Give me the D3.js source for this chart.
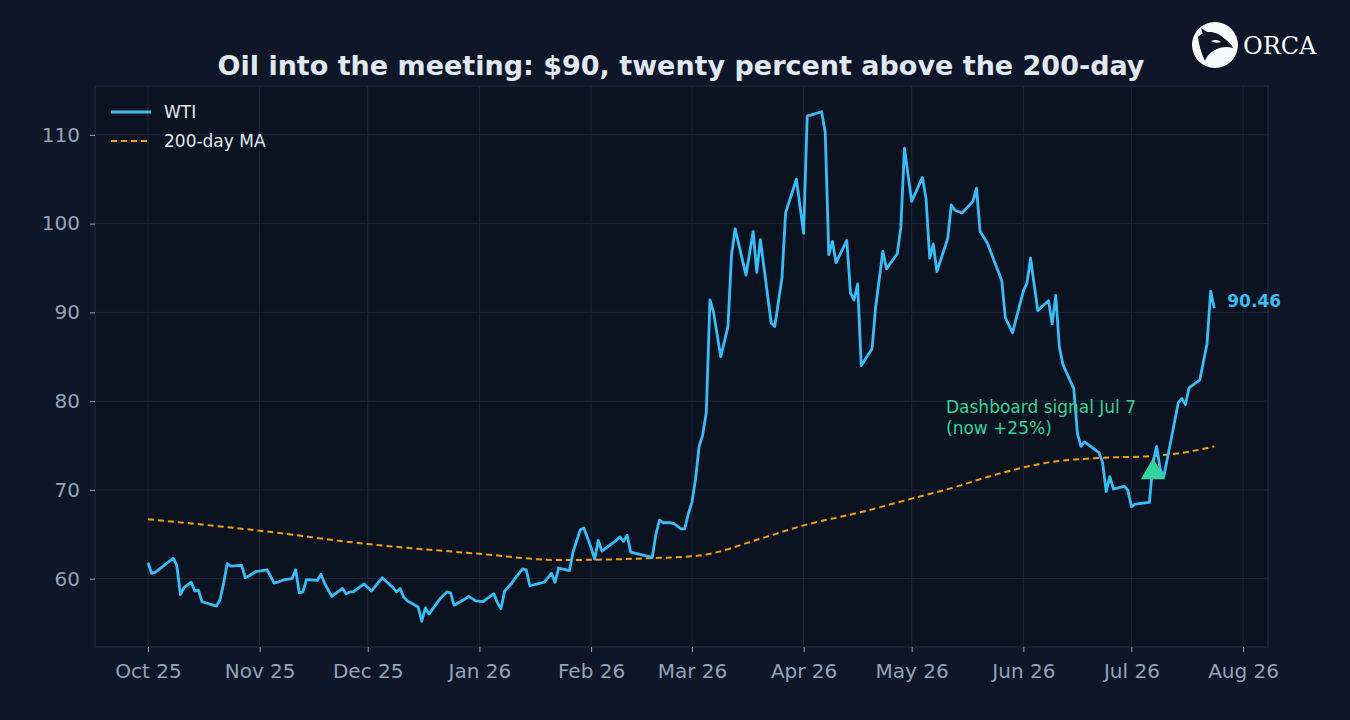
<!DOCTYPE html>
<html>
<head>
<meta charset="utf-8">
<script src="https://cdn.jsdelivr.net/npm/d3@7"></script>
<style>
  body { margin: 0; background: #0e1628; }
  svg { display: block; font-family: "DejaVu Sans", sans-serif; }
</style>
</head>
<body>
<svg id="chart" width="1350" height="720"></svg>
<script>
// data: days after Oct 1 2025, price
const startDate = new Date(2025, 9, 1);
const wtiDays = [0,1,2,7,8,9,10,12,13,14,15,19,20,21,22,23,26,27,28,30,33,34,35,36,38,40,41,42,43,44,47,48,49,51,54,55,56,57,60,62,65,68,69,70,71,72,75,76,77,78,81,83,84,85,88,89,91,93,96,97,98,99,101,102,104,105,106,110,112,113,114,117,118,120,121,123,124,125,126,130,131,132,133,134,140,141,142,143,145,146,148,149,150,151,152,153,154,155,156,157,159,161,162,163,166,168,169,170,173,174,176,177,180,182,183,187,188,189,190,191,194,195,196,197,198,201,202,204,205,208,209,210,212,215,216,217,218,219,222,223,224,226,229,230,231,233,237,238,240,243,244,245,247,250,251,252,253,254,257,258,259,260,264,265,266,267,268,271,272,273,274,278,279,280,281,282,285,286,287,288,289,292,294,295,296];
const wtiValues = [61.8,60.6,60.7,62.3,61.5,58.2,59.0,59.6,58.6,58.7,57.4,56.9,57.6,59.5,61.7,61.4,61.5,60.1,60.3,60.8,61.0,60.3,59.5,59.6,59.9,60.0,61.0,58.4,58.5,59.9,59.8,60.5,59.5,58.0,58.9,58.3,58.5,58.5,59.4,58.6,60.1,59.0,58.5,58.9,57.9,57.5,56.8,55.2,56.7,56.0,57.7,58.5,58.4,57.0,57.7,58.0,57.5,57.4,58.3,57.3,56.6,58.6,59.5,60.1,61.1,61.0,59.2,59.6,60.6,59.6,61.2,60.9,63.0,65.5,65.7,63.5,62.2,64.3,63.1,64.3,64.7,64.2,64.9,63.0,62.4,65.0,66.6,66.3,66.3,66.2,65.6,65.6,67.3,68.6,71.2,74.9,76.2,78.8,91.4,90.0,85.0,88.4,96.5,99.4,94.2,99.1,94.5,98.2,88.8,88.4,93.9,101.2,105.0,98.9,112.1,112.6,110.3,96.5,98.0,95.6,98.1,92.2,91.4,93.2,84.0,85.9,90.6,96.9,94.9,96.6,99.6,108.5,102.5,105.2,102.8,96.1,97.7,94.6,98.3,102.1,101.5,101.2,102.5,104.0,99.1,97.8,93.6,89.4,87.7,92.4,93.3,96.1,90.2,91.3,88.7,91.9,86.1,84.1,81.4,76.4,74.9,75.4,74.2,73.1,69.8,71.5,70.1,70.4,70.0,68.1,68.4,68.6,73.1,74.9,72.3,71.5,77.7,79.8,80.3,79.6,81.5,82.4,86.5,92.4,90.46];
const maDays = [0,31,61,92,114,139,153,170,182,198,211,223,236,250,264,278,289,296];
const maValues = [66.7,65.4,63.9,62.8,62.1,62.3,62.6,64.5,66.0,67.5,68.9,70.2,71.8,73.1,73.6,73.8,74.3,74.9];
const yTicks = [60,70,80,90,100,110];
const signalDay = 279, signalValue = 72.0;
const lastLabel = "90.46";

const toDate = d => d3.timeDay.offset(startDate, d);
const wti = wtiDays.map((d, i) => ({ date: toDate(d), v: wtiValues[i] }));
const ma = maDays.map((d, i) => ({ date: toDate(d), v: maValues[i] }));

const svg = d3.select("#chart");
const m = { l: 95, r: 1268, t: 86, b: 647 };

const x = d3.scaleTime()
  .domain([new Date(2025, 8, 16, 7), new Date(2026, 7, 7, 22)])
  .range([m.l, m.r]);
const y = d3.scaleLinear().domain([52.3, 115.5]).range([m.b, m.t]);

svg.append("rect").attr("x", m.l).attr("y", m.t)
  .attr("width", m.r - m.l).attr("height", m.b - m.t)
  .attr("fill", "#0b1220").attr("stroke", "#1e293b").attr("stroke-width", 1.5);

const months = d3.timeMonth.range(new Date(2025, 9, 1), new Date(2026, 8, 1));

// grid
svg.append("g").selectAll("line").data(months).join("line")
  .attr("x1", d => x(d)).attr("x2", d => x(d))
  .attr("y1", m.t).attr("y2", m.b)
  .attr("stroke", "#1e293b").attr("stroke-width", 1);
svg.append("g").selectAll("line").data(yTicks).join("line")
  .attr("x1", m.l).attr("x2", m.r)
  .attr("y1", d => y(d)).attr("y2", d => y(d))
  .attr("stroke", "#1e293b").attr("stroke-width", 1);

// axes
const xAxis = svg.append("g").attr("transform", `translate(0,${m.b})`)
  .call(d3.axisBottom(x).tickValues(months).tickFormat(d3.timeFormat("%b %y")).tickSize(5).tickPadding(12));
const yAxis = svg.append("g").attr("transform", `translate(${m.l},0)`)
  .call(d3.axisLeft(y).tickValues(yTicks).tickSize(5).tickPadding(10));
[xAxis, yAxis].forEach(a => {
  a.select(".domain").remove();
  a.selectAll(".tick line").attr("stroke", "#94a3b8");
  a.selectAll(".tick text").attr("fill", "#94a3b8").attr("font-size", 20)
    .attr("font-family", "DejaVu Sans, sans-serif");
});

const line = d3.line().x(d => x(d.date)).y(d => y(d.v));

svg.append("path").datum(ma).attr("d", line.curve(d3.curveMonotoneX))
  .attr("fill", "none").attr("stroke", "#f59e0b").attr("stroke-width", 2)
  .attr("stroke-dasharray", "6,4");
svg.append("path").datum(wti).attr("d", line.curve(d3.curveLinear))
  .attr("fill", "none").attr("stroke", "#38bdf8").attr("stroke-width", 2.8)
  .attr("stroke-linejoin", "round");

// end label
const last = wti[wti.length - 1];
svg.append("text").attr("x", x(last.date) + 13).attr("y", y(last.v) - 1)
  .attr("fill", "#38bdf8").attr("font-weight", "bold").attr("font-size", 17)
  .text(lastLabel);

// signal marker
const sx = x(toDate(signalDay)), sy = y(signalValue);
svg.append("path").attr("d", d3.symbol(d3.symbolTriangle, 260)())
  .attr("transform", `translate(${sx},${sy})`).attr("fill", "#34d399");
svg.append("text").attr("x", 946).attr("y", 413).attr("fill", "#34d399")
  .attr("font-size", 17)
  .selectAll("tspan").data(["Dashboard signal Jul 7", "(now +25%)"]).join("tspan")
  .attr("x", 946).attr("dy", (d, i) => i ? 21 : 0).text(d => d);

// legend
const leg = svg.append("g").attr("transform", "translate(111,112)");
leg.append("line").attr("x1", 0).attr("x2", 40).attr("stroke", "#38bdf8").attr("stroke-width", 2.8);
leg.append("text").attr("x", 53).attr("y", 6).attr("fill", "#e2e8f0").attr("font-size", 17).text("WTI");
leg.append("line").attr("x1", 0).attr("x2", 40).attr("y1", 29).attr("y2", 29)
  .attr("stroke", "#f59e0b").attr("stroke-width", 2).attr("stroke-dasharray", "6,4");
leg.append("text").attr("x", 53).attr("y", 35).attr("fill", "#e2e8f0").attr("font-size", 17).text("200-day MA");

// title
svg.append("text").attr("x", 681).attr("y", 75).attr("text-anchor", "middle")
  .attr("fill", "#e2e8f0").attr("font-weight", "bold").attr("font-size", 27)
  .text("Oil into the meeting: $90, twenty percent above the 200-day");

// logo
const logo = svg.append("g").attr("transform", "translate(1215,45)");
logo.append("circle").attr("r", 23).attr("fill", "#f8fafc");
logo.append("path")
  .attr("d", "M-17,-8 C-10,-16 2,-14 10,-6 C14,-3 17,0 18,3 C12,1 6,2 2,4 C-3,6 -8,10 -10,16 C-14,8 -16,0 -17,-8 Z M-14,-17 L-6,-12 L-12,-10 Z")
  .attr("fill", "#0e1628");
logo.append("path").attr("d", "M-4,-4 C0,-6 4,-5 6,-3 C3,-2 0,-2 -4,-4 Z").attr("fill", "#f8fafc");
svg.append("text").attr("x", 1243).attr("y", 54).attr("fill", "#f8fafc")
  .attr("font-family", "DejaVu Serif, serif").attr("font-size", 24).text("ORCA");
</script>
</body>
</html>
